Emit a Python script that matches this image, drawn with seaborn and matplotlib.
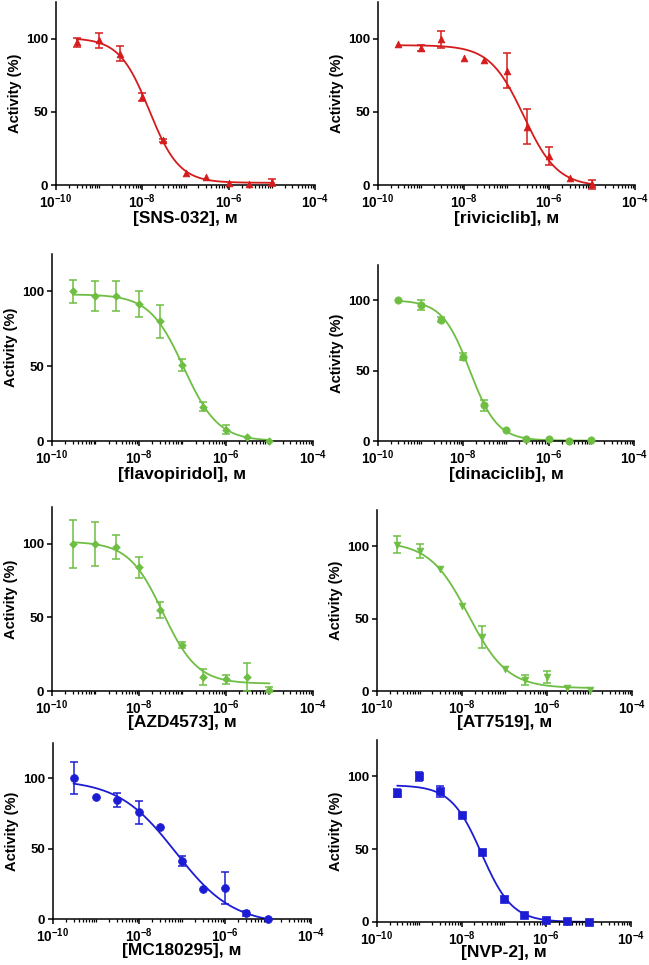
import numpy as np
import pandas as pd
import matplotlib
matplotlib.use("Agg")
import matplotlib.pyplot as plt
import seaborn as sns
from matplotlib.ticker import FixedLocator, FixedFormatter, LogLocator, NullFormatter

# ---------------- data ----------------
conc = [3e-10, 1e-9, 3e-9, 1e-8, 3e-8, 1e-7, 3e-7, 1e-6, 3e-6, 1e-5]

compounds = ["SNS-032", "riviciclib", "flavopiridol", "dinaciclib",
             "AZD4573", "AT7519", "MC180295", "NVP-2"]

sns032_mean = [97.5, 98.9, 89.8, 60.2, 30.7, 8.4, 5.2, 1.6, 0.5, 1.8]
sns032_err = [3, 5, 5, 2.5, 1, 0, 0, 0, 0, 2.5]

riviciclib_mean = [96.6, 93.6, 99.5, 87.0, 85.7, 78.0, 39.8, 20.0, 5.0, 0.5]
riviciclib_err = [0, 2, 6, 0, 0, 12, 12, 6, 0, 3]

flavopiridol_mean = [100, 96.7, 96.7, 91.5, 80, 51, 23, 7.4, 3, 0]
flavopiridol_err = [7.5, 10, 10, 8.5, 11, 4, 3, 3, 0, 0]

dinaciclib_mean = [100, 96.4, 86.2, 60, 25.4, 7.8, 1.4, 1.2, 0, 0.5]
dinaciclib_err = [0, 3.5, 2, 2.5, 4, 0, 0, 0, 0, 0]

azd4573_mean = [100, 100, 97.7, 83.9, 55, 31.1, 9.5, 8, 9.5, 1]
azd4573_err = [16.5, 15, 8, 7, 5.5, 2, 5.5, 3, 9.5, 1.5]

at7519_mean = [101, 96.8, 84, 58.7, 37.4, 15.5, 7.4, 9.7, 2.3, 0.5]
at7519_err = [6, 5, 0, 0, 7.5, 0, 3.5, 4, 0, 0]

mc180295_mean = [100, 86.3, 84.6, 75.8, 65.6, 41.2, 21.3, 21.8, 4, 0]
mc180295_err = [11.5, 0, 5, 8, 0, 3.5, 0, 11.5, 2, 0]

nvp2_mean = [88.6, 100, 89.7, 73.7, 47.8, 16, 5, 1.1, 0.9, 0.2]
nvp2_err = [2.5, 3, 4, 0, 0, 0, 0, 0, 0, 0]

# fitted four-parameter logistic curves: top, bottom, logIC50, Hill slope
fit_top = [100.5, 95.5, 98, 100, 101.5, 103, 99, 94]
fit_bottom = [1.5, -1, 0, 0.3, 5, 2, -4, 0]
fit_logic50 = [-7.84, -6.6, -6.97, -7.85, -7.45, -7.85, -7.15, -7.53]
fit_hill = [1.25, 1.1, 1.1, 1.35, 1.1, 0.95, 0.65, 1.2]

xtick_exponents = [-10, -8, -6, -4]
ytick_values = [0, 50, 100]

means = [sns032_mean, riviciclib_mean, flavopiridol_mean, dinaciclib_mean,
         azd4573_mean, at7519_mean, mc180295_mean, nvp2_mean]
errs = [sns032_err, riviciclib_err, flavopiridol_err, dinaciclib_err,
        azd4573_err, at7519_err, mc180295_err, nvp2_err]

# ---------------- style ----------------
RED = "#D41C1C"
GREEN = "#6FBE44"
BLUE = "#1C1CD4"
colors = [RED, RED, GREEN, GREEN, GREEN, GREEN, BLUE, BLUE]
markers = ["^", "^", "D", "o", "D", "v", "o", "s"]
msizes = [24, 24, 15, 28, 15, 24, 32, 26]

sns.set_style("ticks")
plt.rcParams["font.family"] = ["Liberation Sans", "DejaVu Sans"]
plt.rcParams["font.weight"] = "bold"
plt.rcParams["mathtext.fontset"] = "custom"
plt.rcParams["mathtext.rm"] = "Liberation Sans:bold"
plt.rcParams["mathtext.bf"] = "Liberation Sans:bold"
plt.rcParams["axes.linewidth"] = 1.1
for k in ["text.color", "axes.labelcolor", "xtick.color", "ytick.color",
          "axes.edgecolor", "xtick.labelcolor", "ytick.labelcolor"]:
    plt.rcParams[k] = "black"

W, H = 649, 965
fig = plt.figure(figsize=(W / 100, H / 100), dpi=100)

# axes boxes in pixels: left, bottom(y from top), right, top(y from top)
boxes = [
    (56, 185, 315, 2), (378, 185, 635, 2),
    (52, 441, 313, 254), (378, 441, 634, 265),
    (52, 691, 313, 507), (377, 691, 632, 510),
    (53, 919, 311, 743), (377, 922, 631, 740),
]
# distance (px) from x axis to centre of the x label
xlabel_gap = [33, 33, 33, 33, 32, 32, 32, 31]

for i, name in enumerate(compounds):
    l, b, r, t = boxes[i]
    ax = fig.add_axes([l / W, 1 - b / H, (r - l) / W, (b - t) / H])
    c = colors[i]
    x = np.array(conc)
    y = np.array(means[i])
    e = np.array(errs[i])

    xf = np.logspace(np.log10(conc[0]), np.log10(conc[-1]), 300)
    yf = fit_bottom[i] + (fit_top[i] - fit_bottom[i]) / (
        1 + 10 ** ((np.log10(xf) - fit_logic50[i]) * fit_hill[i]))
    sns.lineplot(x=xf, y=yf, color=c, lw=1.3, ax=ax, clip_on=False)

    m = e > 0
    ax.errorbar(x[m], y[m], yerr=e[m], fmt="none", ecolor=c, elinewidth=1.1,
                capsize=2.6, capthick=1.1, clip_on=False, zorder=3)
    sns.scatterplot(x=x, y=y, marker=markers[i], color=c, edgecolor=c,
                    s=msizes[i], linewidth=0.5, ax=ax, clip_on=False, zorder=4)

    ax.set_xscale("log")
    ax.set_xlim(1e-10, 1e-4)
    ax.set_ylim(0, 125)
    ax.xaxis.set_major_locator(FixedLocator([10.0 ** k for k in xtick_exponents]))
    ax.xaxis.set_major_formatter(FixedFormatter(
        [r"$\mathbf{10^{%d}}$" % k for k in xtick_exponents]))
    ax.xaxis.set_minor_locator(LogLocator(base=10, subs=np.arange(1, 10), numticks=100))
    ax.xaxis.set_minor_formatter(NullFormatter())
    ax.yaxis.set_major_locator(FixedLocator(ytick_values))
    ax.set_yticklabels([str(v) for v in ytick_values])
    ax.tick_params(axis="both", which="major", direction="out", length=3.5,
                   width=1.1, pad=2, colors="black")
    ax.tick_params(axis="y", which="major", labelsize=9.5)
    ax.tick_params(axis="x", which="major", labelsize=9.8, pad=1.5)
    ax.tick_params(axis="x", which="minor", direction="out", length=2,
                   width=0.9, colors="black")
    for lab in ax.get_yticklabels() + ax.get_xticklabels():
        lab.set_fontweight("bold")
    sns.despine(ax=ax)
    for s in ["left", "bottom"]:
        ax.spines[s].set_color("black")
    ax.set_ylabel("Activity (%)", fontsize=10.5, fontweight="bold", labelpad=3)
    ax.set_xlabel("[%s], \u1d0d" % name, fontsize=12.5, fontweight="bold",
                  family=["Liberation Sans", "DejaVu Sans"])
    ax.xaxis.label.set_va("center")
    ax.xaxis.set_label_coords(0.5, -xlabel_gap[i] / (b - t))

fig.savefig("out.png", dpi=100)
